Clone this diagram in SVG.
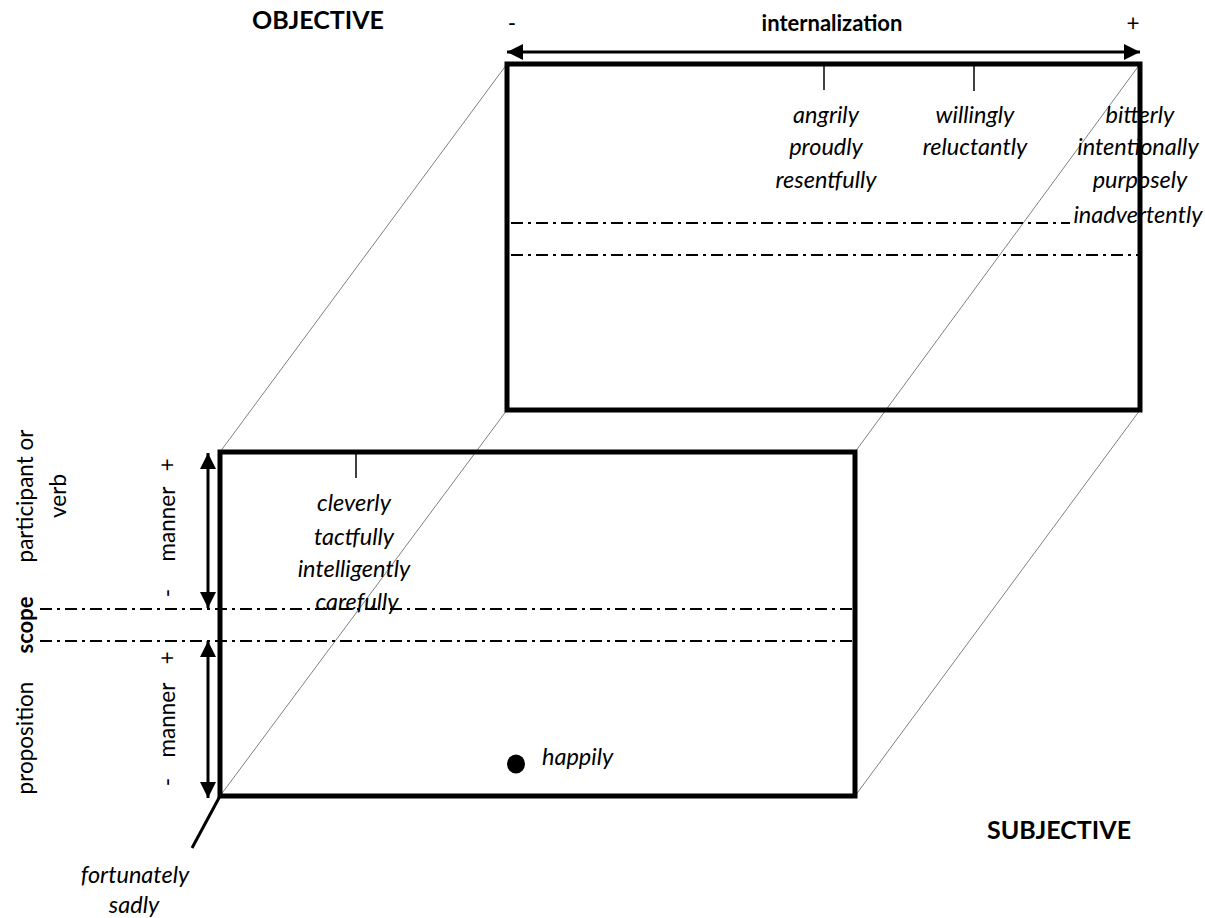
<svg xmlns="http://www.w3.org/2000/svg" width="1205" height="918" viewBox="0 0 1205 918">
<defs>
<style>
.box{fill:none;stroke:#000;stroke-width:5}
.diag{stroke:#808080;stroke-width:1;fill:none}
.dd{stroke:#000;stroke-width:2;stroke-dasharray:12 5 3 5;fill:none}
.tick{stroke:#000;stroke-width:1.5}
.it{font-family:Lato,"Liberation Sans",sans-serif;font-style:italic;font-size:23.5px;fill:#000;text-anchor:middle}
.b{font-family:Lato,"Liberation Sans",sans-serif;font-weight:bold;font-size:22px;fill:#000;text-anchor:middle}
.big{font-size:25px}
.r{font-family:Lato,"Liberation Sans",sans-serif;font-size:22.5px;fill:#000;text-anchor:middle}
.arr{stroke:#000;stroke-width:3;fill:none}
</style>
<marker id="ah" viewBox="0 0 10 10" refX="10" refY="5" markerWidth="16" markerHeight="16" markerUnits="userSpaceOnUse" orient="auto-start-reverse">
<path d="M0,0 L10,5 L0,10 Z" fill="#000"/>
</marker>
</defs>
<rect width="1205" height="918" fill="#fff"/>

<g id="connectors">
<line class="diag" x1="507" y1="64" x2="220" y2="452"/>
<line class="diag" x1="1140" y1="64" x2="855" y2="452"/>
<line class="diag" x1="1140" y1="410" x2="855" y2="796"/>
<line class="diag" x1="507" y1="410" x2="220" y2="796"/>
<line x1="220" y1="796" x2="192" y2="848" stroke="#000" stroke-width="3"/>
<line class="arr" x1="507" y1="52" x2="1140" y2="52" marker-start="url(#ah)" marker-end="url(#ah)"/>
<line class="arr" x1="208" y1="453" x2="208" y2="608" stroke-width="2.5" marker-start="url(#ah)" marker-end="url(#ah)"/>
<line class="arr" x1="208" y1="641" x2="208" y2="798" stroke-width="2.5" marker-start="url(#ah)" marker-end="url(#ah)"/>
</g>

<g id="back-box">
<rect class="box" x="507" y="64" width="633" height="346"/>
<line class="tick" x1="824" y1="66" x2="824" y2="90"/>
<line class="tick" x1="974" y1="66" x2="974" y2="91"/>
<line class="dd" x1="511" y1="223" x2="1070" y2="223"/>
<line class="dd" x1="511" y1="255" x2="1138" y2="255"/>
<text class="it" x="826" y="123">angrily</text>
<text class="it" x="826" y="155">proudly</text>
<text class="it" x="826" y="188">resentfully</text>
<text class="it" x="975" y="123">willingly</text>
<text class="it" x="975" y="155">reluctantly</text>
<text class="it" x="1140" y="123">bitterly</text>
<text class="it" x="1138" y="155">intentionally</text>
<text class="it" x="1140" y="188">purposely</text>
<text class="it" x="1138" y="223">inadvertently</text>
</g>

<g id="front-box">
<rect class="box" x="220" y="452" width="635" height="344"/>
<line class="tick" x1="356" y1="454" x2="356" y2="478"/>
<line class="dd" x1="40" y1="609" x2="853" y2="609"/>
<line class="dd" x1="40" y1="641" x2="853" y2="641"/>
<text class="it" x="354" y="511">cleverly</text>
<text class="it" x="354" y="545">tactfully</text>
<text class="it" x="354" y="577">intelligently</text>
<text class="it" x="357" y="610">carefully</text>
</g>

<g id="happily">
<ellipse cx="516" cy="764" rx="9" ry="9.5" fill="#000"/>
<text class="it" x="542" y="765" style="text-anchor:start">happily</text>
</g>

<g id="fortunately">
<text class="it" x="135" y="883">fortunately</text>
<text class="it" x="134" y="913">sadly</text>
</g>

<g id="top-axis">
<text class="b" x="832" y="31">internalization</text>
<text class="r" x="512" y="31">-</text>
<text class="r" x="1133" y="31">+</text>
</g>

<g id="corner-labels">
<text class="b big" x="318" y="29">OBJECTIVE</text>
<text class="b big" x="1059" y="839">SUBJECTIVE</text>
</g>

<g id="left-axis">
<text class="r" transform="translate(33,496) rotate(-90)">participant or</text>
<text class="r" transform="translate(66,496) rotate(-90)">verb</text>
<text class="b" transform="translate(33,625) rotate(-90)">scope</text>
<text class="r" transform="translate(33,738) rotate(-90)">proposition</text>
<text class="r" transform="translate(175,524) rotate(-90)">manner</text>
<text class="r" transform="translate(175,465) rotate(-90)">+</text>
<text class="r" transform="translate(175,593) rotate(-90)">-</text>
<text class="r" transform="translate(175,720) rotate(-90)">manner</text>
<text class="r" transform="translate(175,658) rotate(-90)">+</text>
<text class="r" transform="translate(175,782) rotate(-90)">-</text>
</g>
</svg>
